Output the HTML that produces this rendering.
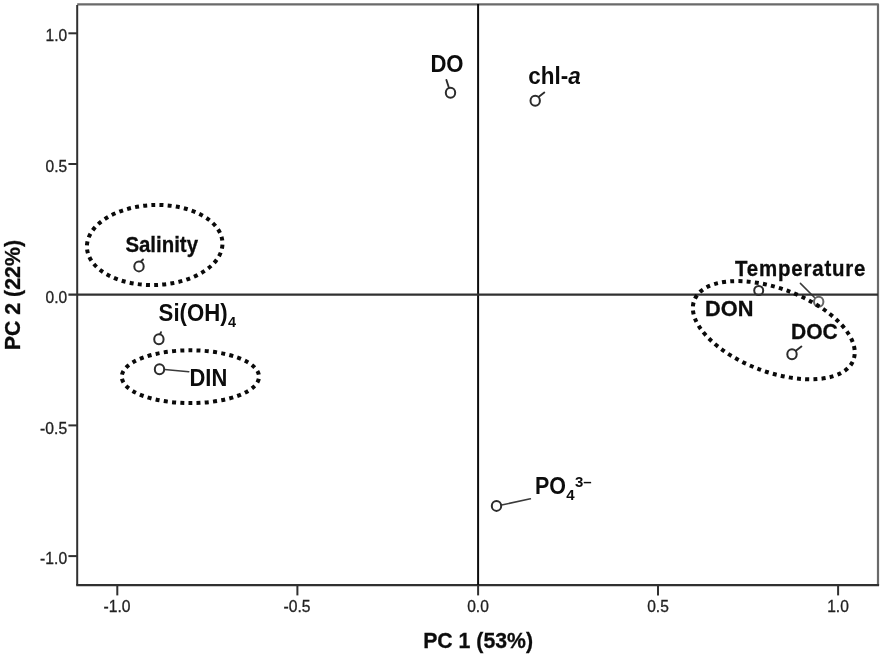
<!DOCTYPE html>
<html lang="en">
<head>
<meta charset="utf-8">
<title>PCA loading plot</title>
<style>
html,body{margin:0;padding:0;background:#fff;}
body{width:886px;height:660px;overflow:hidden;}
svg{display:block;}
text{font-family:"Liberation Sans",Arial,sans-serif;}
.tick{font-size:16.5px;fill:#222;stroke:#222;stroke-width:0.3;}
.lbl{font-weight:bold;fill:#0c0c0c;stroke:#0c0c0c;stroke-width:0.3;}
.cal{stroke-width:0;}
.pt{fill:#fff;stroke:#2c2c2c;stroke-width:2;}
.ld{stroke:#3a3a3a;stroke-width:1.5;fill:none;stroke-linecap:round;}
.ax{stroke:#303030;stroke-width:2;fill:none;}
.fr{stroke:#6a6a6a;stroke-width:2.2;fill:none;stroke-linejoin:round;}
.el{fill:none;stroke:#0a0a0a;stroke-width:4;stroke-dasharray:4 4.3;}
</style>
</head>
<body>
<svg width="886" height="660" viewBox="0 0 886 660">
<rect x="0" y="0" width="886" height="660" fill="#fff"/>

<!-- leaders -->
<g class="ld">
<path d="M449 88 L446.4 80" style="stroke-width:1.9;stroke:#2c2c2c"/>
<path d="M538.5 97 L544.3 92.6" style="stroke-width:1.9;stroke:#2c2c2c"/>
<path d="M141 261.5 L143 259.5" style="stroke-width:1.9;stroke:#2c2c2c"/>
<path d="M160 334.5 L161 332.2" style="stroke-width:1.9;stroke:#2c2c2c"/>
<path d="M164.5 369.6 L188.8 371.8"/>
<path d="M800.4 283.4 L815.5 298.5"/>
<path d="M795.5 351 L801.4 346.6" style="stroke-width:1.9;stroke:#2c2c2c"/>
<path d="M501.6 505 L530.4 498.8"/>
</g>

<!-- points -->
<g class="pt">
<ellipse class="p" cx="450.5" cy="92.7" rx="4.7" ry="5"/>
<ellipse class="p" cx="535.2" cy="100.7" rx="4.7" ry="5"/>
<ellipse class="p" cx="139" cy="266.4" rx="4.7" ry="5"/>
<ellipse class="p" cx="158.9" cy="339.3" rx="4.7" ry="5"/>
<ellipse class="p" cx="159.5" cy="369.2" rx="4.7" ry="5"/>
<ellipse class="p" cx="758.7" cy="290.5" rx="4.5" ry="4.5"/>
<ellipse class="p" cx="818.7" cy="301.8" rx="4.7" ry="5" style="stroke:#666"/>
<ellipse class="p" cx="792" cy="354.3" rx="4.7" ry="5"/>
<ellipse class="p" cx="496.5" cy="505.9" rx="4.7" ry="5"/>
</g>

<!-- frame: top + right (gray) -->
<path class="fr" d="M77.2 4.3 H878 V585"/>
<!-- frame: left + bottom (dark) -->
<path class="ax" d="M77.2 5 V585.1" />
<path class="ax" d="M76.2 585.1 H879.1" style="stroke-width:2.4"/>
<!-- zero lines -->
<path d="M478.1 4 V585" stroke="#0c0c0c" stroke-width="2" fill="none"/>
<path class="ax" d="M68.4 294.7 H878" style="stroke-width:2.3"/>

<!-- y ticks -->
<g class="ax">
<path d="M68.4 33.3 H77"/>
<path d="M68.4 164 H77"/>
<path d="M68.4 425.4 H77"/>
<path d="M68.4 556.1 H77"/>
</g>
<!-- x ticks -->
<g class="ax">
<path d="M117.3 585 V595.4"/>
<path d="M297.4 585 V595.4"/>
<path d="M478.1 585 V595.4"/>
<path d="M658 585 V595.4"/>
<path d="M838.1 585 V595.4"/>
</g>

<!-- y tick labels -->
<g class="tick" text-anchor="end">
<text x="67.1" y="40.8" textLength="21.6" lengthAdjust="spacingAndGlyphs">1.0</text>
<text x="67.1" y="172.3" textLength="21.6" lengthAdjust="spacingAndGlyphs">0.5</text>
<text x="67.1" y="303.0" textLength="21.6" lengthAdjust="spacingAndGlyphs">0.0</text>
<text x="67.1" y="433.9" textLength="27" lengthAdjust="spacingAndGlyphs">-0.5</text>
<text x="67.1" y="563.9" textLength="27" lengthAdjust="spacingAndGlyphs">-1.0</text>
</g>
<!-- x tick labels -->
<g class="tick" text-anchor="middle">
<text x="117.0" y="611.6" textLength="27" lengthAdjust="spacingAndGlyphs">-1.0</text>
<text x="297.0" y="611.6" textLength="27" lengthAdjust="spacingAndGlyphs">-0.5</text>
<text x="478.0" y="611.6" textLength="21.6" lengthAdjust="spacingAndGlyphs">0.0</text>
<text x="658.0" y="611.6" textLength="21.6" lengthAdjust="spacingAndGlyphs">0.5</text>
<text x="838.0" y="611.6" textLength="21.6" lengthAdjust="spacingAndGlyphs">1.0</text>
</g>

<!-- axis titles -->
<text class="lbl" x="423.2" y="648.4" font-size="22.5" textLength="109.8" lengthAdjust="spacingAndGlyphs">PC 1 (53%)</text>
<text class="lbl" transform="translate(19.5 350.2) rotate(-90)" font-size="22.5" textLength="110.2" lengthAdjust="spacingAndGlyphs">PC 2 (22%)</text>

<!-- ellipses -->
<ellipse class="el" pathLength="348.6" stroke-dashoffset="6.15" cx="154.7" cy="245" rx="67.8" ry="40" transform="rotate(-2 154.7 245)"/>
<ellipse class="el" pathLength="315.4" stroke-dashoffset="6.15" cx="190.4" cy="376.7" rx="68.6" ry="26.4"/>
<ellipse class="el" pathLength="415" stroke-dashoffset="6.15" cx="773.8" cy="330.2" rx="85" ry="41.7" transform="rotate(20.5 773.8 330.2)"/>

<!-- labels -->
<g class="lbl">
<text class="cal" x="430.4" y="72.2" font-size="23" textLength="33.2" lengthAdjust="spacingAndGlyphs">DO</text>
<text class="cal" x="528.3" y="83.8" font-size="23" textLength="52.4" lengthAdjust="spacingAndGlyphs">chl-<tspan font-style="italic">a</tspan></text>
<text x="125.4" y="251.5" font-size="22.5" textLength="72.6" lengthAdjust="spacingAndGlyphs">Salinity</text>
<text class="cal" x="158.6" y="321.2" font-size="23"><tspan textLength="69" lengthAdjust="spacingAndGlyphs">Si(OH)</tspan><tspan font-size="14.5" dy="5.9" dx="0.3">4</tspan></text>
<text class="cal" x="189.5" y="385.8" font-size="23" textLength="37.8" lengthAdjust="spacingAndGlyphs">DIN</text>
<text transform="translate(735.1 275.5) scale(0.93 1)" font-size="22" textLength="140.2" lengthAdjust="spacing">Temperature</text>
<text x="705" y="316.2" font-size="22.5" textLength="48.4" lengthAdjust="spacingAndGlyphs">DON</text>
<text x="791" y="339.3" font-size="22.5" textLength="46.8" lengthAdjust="spacingAndGlyphs">DOC</text>
<text class="cal" x="535" y="494.4" font-size="23.5"><tspan textLength="31" lengthAdjust="spacingAndGlyphs">PO</tspan><tspan font-size="15" dy="5.6" dx="0.3">4</tspan><tspan font-size="15" dy="-13.5" dx="0.3">3–</tspan></text>
</g>
</svg>
</body>
</html>
